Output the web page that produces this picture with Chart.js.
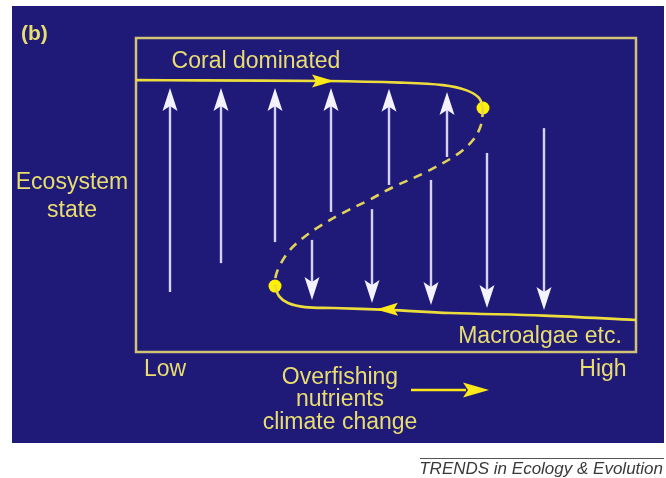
<!DOCTYPE html>
<html>
<head>
<meta charset="utf-8">
<script src="https://cdn.jsdelivr.net/npm/chart.js@4/dist/chart.umd.min.js"></script>
<style>
  html, body { margin: 0; padding: 0; background: #ffffff; }
  #wrap { width: 666px; height: 478px; }
</style>
</head>
<body>
<div id="wrap"><canvas id="c" width="666" height="478"></canvas></div>
<script>
// ---- Data (pressure on x: 0..100, ecosystem state on y: 0..100) ----
const upperBranchX = [0, 12.8, 38, 52.8, 61.4, 66, 68.6, 69.4];
const upperBranchY = [86.6, 86.5, 86.3, 85.8, 85.0, 83.4, 80.9, 77.7];

const unstableX = [69.4, 69.0, 67.4, 64.4, 58.0, 51.4, 46.6, 41.4, 36.8, 33.4, 30.8, 29.0, 28.0, 27.8];
const unstableY = [77.7, 72.3, 67.5, 63.1, 57.3, 52.5, 48.4, 44.3, 40.1, 36.3, 32.5, 28.3, 24.5, 21.0];

const lowerBranchX = [27.8, 28.6, 30.4, 33.8, 39.4, 50.4, 62.8, 81.6, 100];
const lowerBranchY = [21.0, 17.8, 15.6, 14.3, 14.0, 13.4, 12.4, 11.6, 10.2];

const tippingX = [69.4, 27.8];
const tippingY = [77.7, 21.0];

const upArrowX    = [6.8, 17, 27.8, 39, 50.6, 62.2];
const upArrowFrom = [19.1, 28.3, 35.0, 44.6, 53.2, 62.1];
const upArrowTo   = [84.1, 84.1, 84.1, 84.1, 83.8, 82.8];

const downArrowX    = [35.2, 47.2, 59, 70.2, 81.6];
const downArrowFrom = [35.7, 45.5, 54.8, 63.4, 71.3];
const downArrowTo   = [16.6, 15.6, 15.0, 14.0, 13.4];

const xTickLabels = ['Low', 'High'];
const xTickValues = [5.8, 93.4];
const yAxisTitle = ['Ecosystem', 'state'];
const xAxisTitle = ['Overfishing', 'nutrients', 'climate change'];
const upperLabel = 'Coral dominated';
const lowerLabel = 'Macroalgae etc.';
const panelLabel = '(b)';
const credit = 'TRENDS in Ecology & Evolution';

// ---- Styles ----
const BG_BLUE = '#1f1a78';
const FRAME = '#d2c476';
const CURVE = '#ecdc3c';
const TEXT = '#e9dd70';
const ARROW_LINE = '#d6d2f6';
const ARROW_HEAD = '#f4f2ff';
const FONT = '"Liberation Sans", Arial, sans-serif';

function pts(xs, ys) { return xs.map((x, i) => ({ x: x, y: ys[i] })); }

function headPath(ctx, tx, ty, dirX, dirY, len, half, notch) {
  const px = -dirY, py = dirX;
  const bx = tx - dirX * len, by = ty - dirY * len;
  const nx = tx - dirX * (len - notch), ny = ty - dirY * (len - notch);
  ctx.beginPath();
  ctx.moveTo(tx, ty);
  ctx.lineTo(bx + px * half, by + py * half);
  ctx.lineTo(nx, ny);
  ctx.lineTo(bx - px * half, by - py * half);
  ctx.closePath();
  ctx.fill();
}

const decor = {
  id: 'decor',
  beforeDraw(chart) {
    const ctx = chart.ctx;
    ctx.save();
    ctx.fillStyle = '#ffffff';
    ctx.fillRect(0, 0, chart.width, chart.height);
    ctx.fillStyle = BG_BLUE;
    ctx.fillRect(12, 6, 652, 437);
    ctx.restore();
  },
  beforeDatasetsDraw(chart) {
    const ctx = chart.ctx;
    const xs = chart.scales.x, ys = chart.scales.y;
    const a = chart.chartArea;
    ctx.save();
    ctx.strokeStyle = FRAME;
    ctx.lineWidth = 2.5;
    ctx.strokeRect(a.left, a.top, a.right - a.left, a.bottom - a.top);
    const drawV = (x, y0, y1) => {
      const px = xs.getPixelForValue(x);
      const p0 = ys.getPixelForValue(y0);
      const p1 = ys.getPixelForValue(y1);
      const dir = p1 < p0 ? -1 : 1;
      ctx.strokeStyle = ARROW_LINE;
      ctx.lineWidth = 2.4;
      ctx.beginPath();
      ctx.moveTo(px, p0);
      ctx.lineTo(px, p1 - dir * 14);
      ctx.stroke();
      ctx.fillStyle = ARROW_HEAD;
      headPath(ctx, px, p1, 0, dir, 23, 7.5, 5);
    };
    upArrowX.forEach((x, i) => drawV(x, upArrowFrom[i], upArrowTo[i]));
    downArrowX.forEach((x, i) => drawV(x, downArrowFrom[i], downArrowTo[i]));
    ctx.restore();
  },
  afterDatasetsDraw(chart) {
    const ctx = chart.ctx;
    const xs = chart.scales.x, ys = chart.scales.y;
    const X = v => xs.getPixelForValue(v), Y = v => ys.getPixelForValue(v);
    ctx.save();
    ctx.fillStyle = '#ffe81a';
    headPath(ctx, X(39.6), Y(86.3), 1, 0, 22, 6.5, 4);
    headPath(ctx, X(48), Y(13.5), -1, 0.02, 22, 6.5, 4);

    ctx.fillStyle = TEXT;
    ctx.textAlign = 'center';
    ctx.textBaseline = 'middle';
    ctx.font = '23px ' + FONT;
    ctx.fillText(upperLabel, X(24), Y(92.4));
    ctx.fillText(lowerLabel, X(80.8), Y(4.8));
    ctx.fillText(yAxisTitle[0], X(-12.8), Y(53.8));
    ctx.fillText(yAxisTitle[1], X(-12.8), Y(45));
    xTickLabels.forEach((t, i) => ctx.fillText(t, X(xTickValues[i]), Y(-5.7)));
    ctx.fillText(xAxisTitle[0], X(40.8), Y(-8.3));
    ctx.fillText(xAxisTitle[1], X(40.8), Y(-15.3));
    ctx.fillText(xAxisTitle[2], X(40.8), Y(-22.6));
    ctx.textAlign = 'left';
    ctx.font = 'bold 21px ' + FONT;
    ctx.fillText(panelLabel, 21, 34);

    ctx.strokeStyle = '#ffe81a';
    ctx.lineWidth = 2.6;
    ctx.beginPath();
    ctx.moveTo(X(55), Y(-12.1));
    ctx.lineTo(X(66), Y(-12.1));
    ctx.stroke();
    ctx.fillStyle = '#ffe81a';
    headPath(ctx, X(70.6), Y(-12.1), 1, 0, 26, 7.5, 5);

    ctx.strokeStyle = '#555555';
    ctx.lineWidth = 1.2;
    ctx.beginPath();
    ctx.moveTo(420, 458.5);
    ctx.lineTo(664, 458.5);
    ctx.stroke();
    ctx.fillStyle = '#3a3a3a';
    ctx.textAlign = 'right';
    ctx.font = 'italic 17px ' + FONT;
    ctx.fillText(credit, 663, 469);
    ctx.restore();
  }
};

new Chart(document.getElementById('c'), {
  type: 'scatter',
  data: {
    datasets: [
      { data: pts(upperBranchX, upperBranchY), showLine: true, borderColor: CURVE, borderWidth: 2.6, pointRadius: 0, tension: 0.35, fill: false },
      { data: pts(unstableX, unstableY), showLine: true, borderColor: '#e0d25a', borderWidth: 2.6, borderDash: [9, 7], pointRadius: 0, tension: 0.35, fill: false },
      { data: pts(lowerBranchX, lowerBranchY), showLine: true, borderColor: CURVE, borderWidth: 2.6, pointRadius: 0, tension: 0.35, fill: false },
      { data: pts(tippingX, tippingY), showLine: false, pointRadius: 6.5, pointBackgroundColor: '#fff000', pointBorderColor: '#fff000', pointBorderWidth: 0 }
    ]
  },
  options: {
    responsive: false,
    animation: false,
    devicePixelRatio: 1,
    layout: { padding: { left: 136, top: 38, right: 30, bottom: 126 } },
    plugins: { legend: { display: false }, tooltip: { enabled: false } },
    scales: {
      x: { type: 'linear', min: 0, max: 100, display: false },
      y: { type: 'linear', min: 0, max: 100, display: false }
    }
  },
  plugins: [decor]
});
</script>
</body>
</html>
